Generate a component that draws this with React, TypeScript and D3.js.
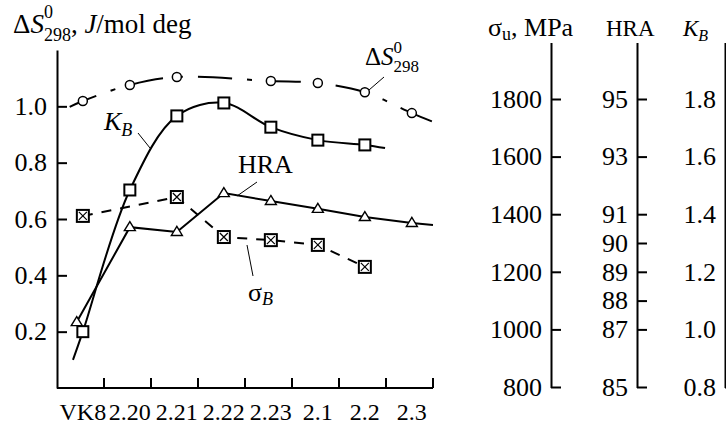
import * as d3 from 'd3';
import React, { useRef, useEffect } from 'react';

const categories = ['VK8', '2.20', '2.21', '2.22', '2.23', '2.1', '2.2', '2.3'];

// left scale (ΔS, K_B, HRA and σ_B all share the 0–1.2 axis)
const leftTicks = [0.2, 0.4, 0.6, 0.8, 1.0];

// ΔS298 — open circles, dash-dot curve (no point at 2.22)
const entropyPos = [0, 1, 2, 4, 5, 6, 7];
const entropyVal = [1.019, 1.076, 1.104, 1.09, 1.083, 1.05, 0.976];
const entropyStart = [-0.28, 0.998];
const entropyEnd = [7.45, 0.945];

// K_B — squares, smooth solid curve
const kbPos = [0, 1, 2, 3, 4, 5, 6];
const kbVal = [0.2, 0.703, 0.966, 1.012, 0.926, 0.88, 0.863];
const kbStart = [-0.21, 0.1];
const kbEnd = [6.43, 0.852];

// HRA — triangles, broken line
const hraPos = [-0.13, 1, 2, 3, 4, 5, 6, 7];
const hraVal = [0.234, 0.571, 0.554, 0.692, 0.664, 0.636, 0.607, 0.586];
const hraEnd = [7.45, 0.579];

// σ_B — crossed squares, dashed line
const sigmaPos = [0, 2, 3, 4, 5, 6];
const sigmaVal = [0.611, 0.678, 0.536, 0.525, 0.508, 0.43];

// right-hand scales
const strengthTicks = [800, 1000, 1200, 1400, 1600, 1800];
const hardnessTicks = [85, 87, 88, 89, 90, 91, 93, 95];
const kbTicks = [0.8, 1.0, 1.2, 1.4, 1.6, 1.8];

const FONT = "'Liberation Serif', 'Times New Roman', serif";

type Piece = { text: string; italic?: boolean; size?: number; dy?: number; dx?: number; stack?: boolean };

// draws text pieces one after the other, sub/superscripts can be stacked
function rich(g: any, x: number, y: number, size: number, pieces: Piece[]) {
  let cx = x;
  let lastStart = x;
  pieces.forEach((p) => {
    const sx = (p.stack ? lastStart : cx) + (p.dx || 0);
    const t = g
      .append('text')
      .attr('x', sx)
      .attr('y', y + (p.dy || 0))
      .attr('font-size', p.size || size)
      .attr('font-style', p.italic ? 'italic' : 'normal')
      .style('font-family', FONT)
      .style('white-space', 'pre')
      .text(p.text);
    const w = (t.node() as SVGTextElement).getComputedTextLength();
    if (p.stack) {
      cx = Math.max(cx, sx + w);
    } else {
      lastStart = sx;
      cx = sx + w;
    }
  });
}

function Chart() {
  const svgRef = useRef<SVGSVGElement>(null);

  useEffect(() => {
    const svg = d3.select(svgRef.current);
    svg.selectAll('*').remove();

    const x = d3.scaleLinear().domain([-0.55, 7.45]).range([57, 433]);
    const y = d3.scaleLinear().domain([0, 1.2]).range([388, 50]);

    /* left axis */
    const ga = svg
      .append('g')
      .attr('transform', 'translate(57,0)')
      .call(
        d3
          .axisLeft(y)
          .tickValues(leftTicks)
          .tickFormat(d3.format('.1f'))
          .tickSizeInner(-10)
          .tickSizeOuter(0)
          .tickPadding(10)
      );
    ga.attr('font-size', 26);
    ga.selectAll('path,line').attr('stroke-width', 2);
    ga.selectAll('text').attr('fill', '#000');

    /* bottom axis */
    const gb = svg.append('g');
    gb.append('line')
      .attr('x1', x(-0.55))
      .attr('x2', x(7.45))
      .attr('y1', y(0))
      .attr('y2', y(0))
      .attr('stroke', '#000')
      .attr('stroke-width', 2);
    gb.selectAll('line.tick')
      .data(categories)
      .join('line')
      .attr('class', 'tick')
      .attr('x1', (d, i) => x(i + 0.45))
      .attr('x2', (d, i) => x(i + 0.45))
      .attr('y1', y(0))
      .attr('y2', y(0) - 10)
      .attr('stroke', '#000')
      .attr('stroke-width', 2);
    gb.selectAll('text')
      .data(categories)
      .join('text')
      .attr('x', (d, i) => x(i))
      .attr('y', 420)
      .attr('text-anchor', 'middle')
      .attr('font-size', 24)
      .text((d) => d);

    /* lines */
    const pts = (pos: number[], val: number[]) => pos.map((p, i) => [p, val[i]]);
    const straight = d3
      .line<number[]>()
      .x((d) => x(d[0]))
      .y((d) => y(d[1]));
    const smooth = d3
      .line<number[]>()
      .x((d) => x(d[0]))
      .y((d) => y(d[1]))
      .curve(d3.curveCatmullRom.alpha(0.5));

    const entropyLine = [entropyStart, ...pts(entropyPos, entropyVal), entropyEnd];
    const ePath = svg
      .append('path')
      .attr('d', smooth(entropyLine))
      .attr('fill', 'none')
      .attr('stroke', '#000')
      .attr('stroke-width', 2)
      .attr('stroke-dasharray', '34,15,5,15');
    // align the dash pattern so a long dash starts just after 2.21
    const node = ePath.node() as SVGPathElement;
    const total = node.getTotalLength();
    let s0 = 0;
    while (s0 < total && node.getPointAtLength(s0).x < x(2.43)) s0 += 1;
    ePath.attr('stroke-dashoffset', (69 - (s0 % 69)) % 69);

    svg
      .append('path')
      .attr('d', smooth([kbStart, ...pts(kbPos, kbVal), kbEnd]))
      .attr('fill', 'none')
      .attr('stroke', '#000')
      .attr('stroke-width', 2);

    svg
      .append('path')
      .attr('d', straight([...pts(hraPos, hraVal), hraEnd]))
      .attr('fill', 'none')
      .attr('stroke', '#000')
      .attr('stroke-width', 2);

    svg
      .append('path')
      .attr('d', straight(pts(sigmaPos, sigmaVal)))
      .attr('fill', 'none')
      .attr('stroke', '#000')
      .attr('stroke-width', 2)
      .attr('stroke-dasharray', '10,9');

    /* markers */
    svg
      .append('g')
      .selectAll('circle')
      .data(pts(entropyPos, entropyVal))
      .join('circle')
      .attr('cx', (d) => x(d[0]))
      .attr('cy', (d) => y(d[1]))
      .attr('r', 4.5)
      .attr('fill', '#fff')
      .attr('stroke', '#000')
      .attr('stroke-width', 1.5);

    svg
      .append('g')
      .selectAll('rect')
      .data(pts(kbPos, kbVal))
      .join('rect')
      .attr('x', (d) => x(d[0]) - 5.5)
      .attr('y', (d) => y(d[1]) - 5.5)
      .attr('width', 11)
      .attr('height', 11)
      .attr('fill', '#fff')
      .attr('stroke', '#000')
      .attr('stroke-width', 2);

    svg
      .append('g')
      .selectAll('path')
      .data(pts(hraPos, hraVal))
      .join('path')
      .attr('transform', (d) => `translate(${x(d[0])},${y(d[1])})`)
      .attr('d', 'M0,-5.5L5.5,3.5L-5.5,3.5Z')
      .attr('fill', '#fff')
      .attr('stroke', '#000')
      .attr('stroke-width', 1.4);

    const sq = svg
      .append('g')
      .selectAll('g')
      .data(pts(sigmaPos, sigmaVal))
      .join('g')
      .attr('transform', (d) => `translate(${x(d[0])},${y(d[1])})`);
    sq.append('rect')
      .attr('x', -6)
      .attr('y', -6)
      .attr('width', 12)
      .attr('height', 12)
      .attr('fill', '#fff')
      .attr('stroke', '#000')
      .attr('stroke-width', 2);
    sq.append('path')
      .attr('d', 'M-4,-4L4,4M4,-4L-4,4')
      .attr('stroke', '#000')
      .attr('stroke-width', 1.2);

    /* right-hand axes */
    const rightAxis = (scale: any, ticks: number[], fmt: any, ax: number) => {
      const g = svg
        .append('g')
        .attr('transform', `translate(${ax},0)`)
        .call(
          d3
            .axisLeft(scale)
            .tickValues(ticks)
            .tickFormat(fmt)
            .tickSizeInner(-10)
            .tickSizeOuter(0)
            .tickPadding(9)
        );
      g.attr('font-size', 26);
      g.select('.domain').remove();
      g.selectAll('line').attr('stroke-width', 2);
      g.selectAll('text').attr('fill', '#000');
      g.append('line')
        .attr('x1', 0.5)
        .attr('x2', 0.5)
        .attr('y1', 43)
        .attr('y2', 388)
        .attr('stroke', '#000')
        .attr('stroke-width', 2);
    };
    rightAxis(d3.scaleLinear().domain([800, 1800]).range([387, 99]), strengthTicks, d3.format('d'), 551);
    rightAxis(d3.scaleLinear().domain([85, 95]).range([387, 99]), hardnessTicks, d3.format('d'), 637);
    rightAxis(d3.scaleLinear().domain([0.8, 1.8]).range([387, 99]), kbTicks, d3.format('.1f'), 725);

    /* titles and labels */
    const tg = svg.append('g').attr('fill', '#000');
    rich(tg, 13, 33, 27, [
      { text: 'Δ' },
      { text: 'S', italic: true },
      { text: '0', size: 18, dy: -15 },
      { text: '298', size: 18, dy: 8, stack: true },
      { text: ', ' },
      { text: 'J', italic: true },
      { text: '/mol deg' },
    ]);
    rich(tg, 488, 36, 26, [{ text: 'σ' }, { text: 'u', size: 18, dy: 4 }, { text: ', MPa' }]);
    rich(tg, 606, 36, 23, [{ text: 'HRA' }]);
    rich(tg, 683, 36, 23, [{ text: 'K', italic: true }, { text: 'B', italic: true, size: 16, dy: 5 }]);

    rich(tg, 365, 65, 25, [
      { text: 'Δ' },
      { text: 'S', italic: true },
      { text: '0', size: 17, dy: -12 },
      { text: '298', size: 17, dy: 7, stack: true },
    ]);
    rich(tg, 104, 130, 26, [{ text: 'K', italic: true }, { text: 'B', italic: true, size: 18, dy: 6 }]);
    rich(tg, 238, 173, 26, [{ text: 'HRA' }]);
    rich(tg, 248, 301, 26, [{ text: 'σ' }, { text: 'B', italic: true, size: 18, dy: 4 }]);

    // leader lines
    const leaders = [
      [138, 133, 150, 148],
      [384, 77, 369, 90],
      [257, 182, 237, 196],
      [253, 276, 247, 245],
    ];
    svg
      .append('g')
      .selectAll('line')
      .data(leaders)
      .join('line')
      .attr('x1', (d) => d[0])
      .attr('y1', (d) => d[1])
      .attr('x2', (d) => d[2])
      .attr('y2', (d) => d[3])
      .attr('stroke', '#000')
      .attr('stroke-width', 1);

    // serif face everywhere (d3 axes default to sans-serif)
    svg.selectAll('text').style('font-family', FONT);
  }, []);

  return (
    <svg
      ref={svgRef}
      width={726}
      height={429}
      style={{ position: 'absolute', left: 0, top: 0, background: '#fff' }}
    />
  );
}

export default function App() {
  return <Chart />;
}
